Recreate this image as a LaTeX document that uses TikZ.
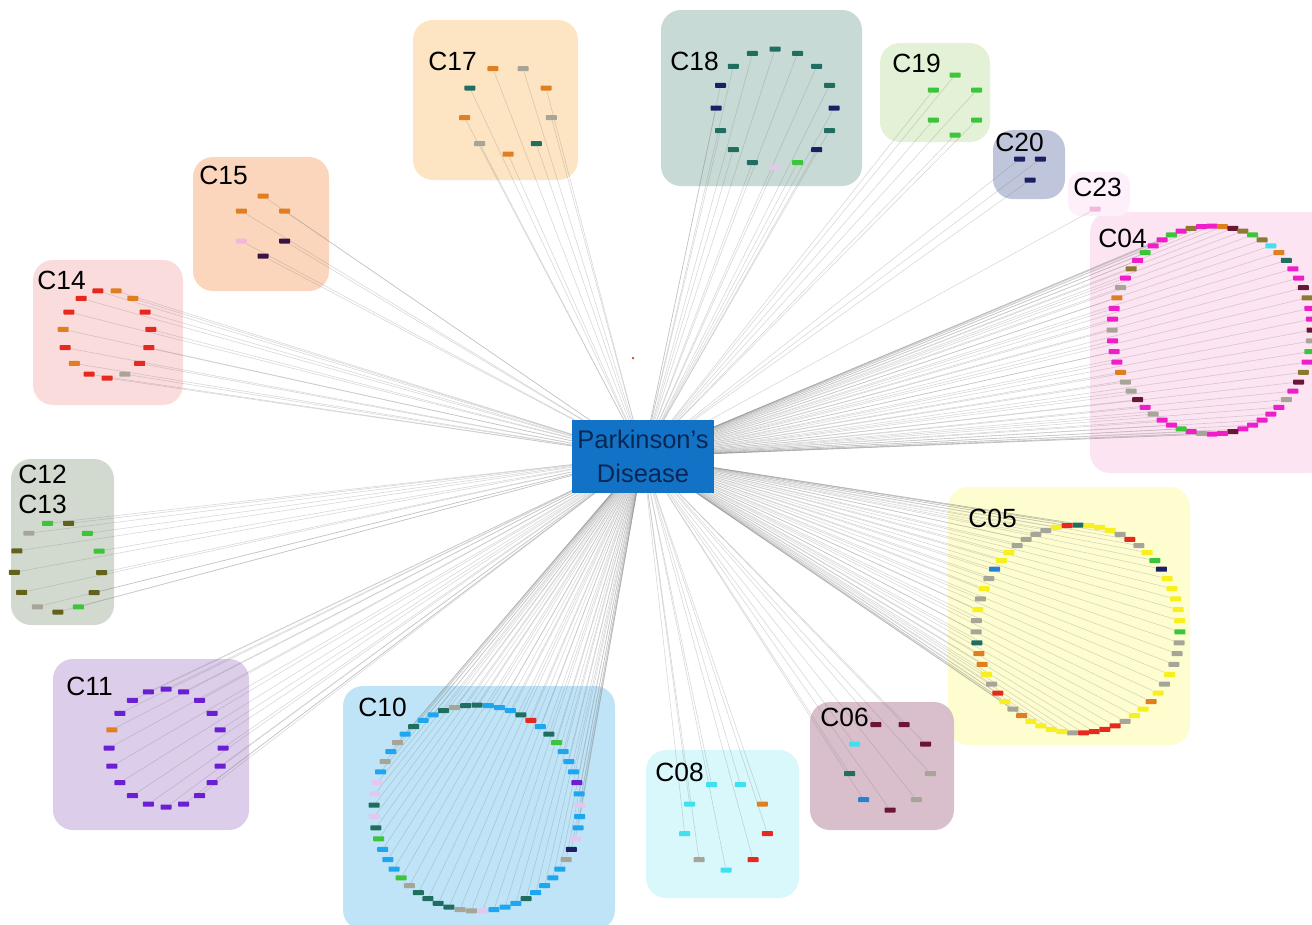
\documentclass[tikz,border=0pt]{standalone}
\usepackage{fontspec}
\setmainfont{Liberation Sans}

\pgfdeclarelayer{boxes}
\pgfdeclarelayer{links}
\pgfsetlayers{boxes,links,main}

% gene colours
\definecolor{mg}{HTML}{F01EC8}
\definecolor{gy}{HTML}{A6A598}
\definecolor{ol}{HTML}{8C7A32}
\definecolor{ow}{HTML}{62621A}
\definecolor{dr}{HTML}{6B1636}
\definecolor{gn}{HTML}{3CC43A}
\definecolor{cy}{HTML}{3FE0F0}
\definecolor{or}{HTML}{E07E22}
\definecolor{tl}{HTML}{1F6E60}
\definecolor{ye}{HTML}{F7F01E}
\definecolor{rd}{HTML}{E6281F}
\definecolor{nv}{HTML}{1C1F66}
\definecolor{bl}{HTML}{2A80D6}
\definecolor{sk}{HTML}{1EA6F0}
\definecolor{lv}{HTML}{E2C8EE}
\definecolor{pu}{HTML}{6A1FD3}
\definecolor{dp}{HTML}{3A1244}
\definecolor{pk}{HTML}{F2B8DC}
% box colours
\definecolor{b04}{HTML}{FCE4F2}
\definecolor{b05}{HTML}{FEFDD0}
\definecolor{b06}{HTML}{D9BFCB}
\definecolor{b08}{HTML}{D8F8FC}
\definecolor{b10}{HTML}{BFE4F8}
\definecolor{b11}{HTML}{DCCDEB}
\definecolor{b12}{HTML}{D2DACF}
\definecolor{b14}{HTML}{FBDCDD}
\definecolor{b15}{HTML}{FBD6BD}
\definecolor{b17}{HTML}{FDE4C2}
\definecolor{b18}{HTML}{C8DAD5}
\definecolor{b19}{HTML}{E3F2D6}
\definecolor{b20}{HTML}{BFC5DA}
\definecolor{b23}{HTML}{FDF0FA}
\definecolor{pdblue}{HTML}{1273C6}
\definecolor{pdtext}{HTML}{0B2654}

\tikzset{
  gene/.style={minimum width=0.22cm, minimum height=0.1cm, inner sep=0pt, rounded corners=0.4pt},
  link/.style={draw=black!50, line width=0.35pt, opacity=0.3},
  cbox/.style={rounded corners=0.4cm},
  clabel/.style={anchor=north west, inner sep=0pt, font=\fontsize{15}{17}\selectfont}
}

% #1 name, #2/#3 centre, #4/#5 radii, #6 first angle, #7 colours clockwise
\newcommand{\genering}[7]{%
  \foreach \col [count=\k] in {#7} {\xdef\ngenes{\k}}%
  \foreach \col [count=\i] in {#7} {
    \pgfmathsetmacro{\ang}{#6-(\i-1)*(360/\ngenes)}
    \node[gene, fill=\col] (#1-\i) at ({#2+#4*cos(\ang)},{#3-#5*sin(\ang)}) {};
  }%
  \begin{pgfonlayer}{links}
    \foreach \i in {1,...,\ngenes} \draw[link] (pd.center) -- (#1-\i);
  \end{pgfonlayer}%
}

\begin{document}
\begin{tikzpicture}[x=0.02cm, y=-0.02cm]
  \useasboundingbox (0,0) rectangle (1312,924);

  % cluster boxes
  \begin{pgfonlayer}{boxes}
    \foreach \xa/\ya/\xb/\yb/\col in {413/20/578/180/b17, 661/10/862/186/b18, 880/43/990/142/b19,
        993/130/1065/199/b20, 1090/212/1330/473/b04, 948/487/1190/745/b05, 810/702/954/830/b06,
        646/750/799/898/b08, 343/686/615/930/b10, 53/659/249/830/b11, 11/459/114/625/b12,
        33/260/183/405/b14, 193/157/329/291/b15}
      \fill[cbox, fill=\col] (\xa,\ya) rectangle (\xb,\yb);
    \fill[b23, rounded corners=0.25cm] (1068,172) rectangle (1130,216);
  \end{pgfonlayer}

  % centre
  \node[fill=pdblue, minimum width=2.84cm, minimum height=1.46cm, inner sep=0pt, align=center,
        text=pdtext, font=\fontsize{14.5}{19}\selectfont] (pd) at (643,456.5) {Parkinson's\\Disease};
  \fill[rd] (633,358) circle (0.025cm); % stray gene

  % gene rings
  \genering{c17}{508}{110}{44}{44}{70}{gy,or,gy,tl,or,gy,or,tl,or}
  \genering{c18}{775}{108}{59}{59}{90}{tl,tl,tl,tl,nv,tl,nv,gn,lv,tl,tl,tl,nv,nv,tl,tl}
  \genering{c19}{955}{105}{25}{30}{90}{gn,gn,gn,gn,gn,gn}
  \genering{c20}{1030}{166}{12}{14}{30}{nv,nv,nv}
  \genering{c23}{1095}{209}{0}{0}{90}{pk}
  \genering{c04}{1212}{330}{100}{104}{90}{mg,or,dr,ol,gn,ol,cy,or,tl,mg,mg,dr,ol,mg,mg,dr,gy,gn,mg,ol,dr,mg,gy,mg,mg,mg,mg,mg,dr,mg,mg,gy,mg,gn,mg,mg,gy,mg,dr,gy,gy,or,mg,mg,mg,gy,mg,mg,or,gy,mg,ol,mg,gn,mg,mg,gn,mg,ol,mg}
  \genering{c05}{1078}{629}{102}{104}{90}{tl,ye,ye,ye,gy,rd,gy,ye,gn,nv,ye,ye,ye,ye,ye,gn,gy,gy,gy,ye,gy,ye,or,ye,ye,gy,rd,rd,rd,rd,gy,ye,ye,ye,ye,or,gy,ye,rd,gy,ye,or,or,tl,gy,gy,ye,gy,ye,gy,bl,ye,ye,gy,gy,gy,gy,ye,rd}
  \genering{c06}{890}{766}{41}{44}{70}{dr,dr,gy,gy,dr,bl,tl,cy,dr}
  \genering{c08}{726}{826}{42}{44}{70}{cy,or,rd,rd,cy,gy,cy,cy,cy}
  \genering{c10}{477}{808}{103}{103}{90}{tl,sk,sk,sk,tl,rd,sk,tl,gn,sk,sk,sk,pu,sk,lv,sk,sk,lv,nv,gy,sk,sk,sk,sk,tl,sk,sk,sk,lv,gy,gy,tl,tl,tl,tl,gy,gn,sk,sk,sk,gn,tl,lv,tl,lv,lv,sk,gy,sk,gy,sk,tl,sk,sk,tl,gy,tl}
  \genering{c11}{166}{748}{57}{59}{90}{pu,pu,pu,pu,pu,pu,pu,pu,pu,pu,pu,pu,pu,pu,pu,pu,or,pu,pu,pu}
  \genering{c12}{58}{567}{44}{45}{76}{ow,gn,gn,ow,ow,gn,ow,gy,ow,ow,ow,gy,gn}
  \genering{c14}{107}{334}{44}{44}{78}{or,or,rd,rd,rd,rd,gy,rd,rd,or,rd,or,rd,rd,rd}
  \genering{c15}{263}{226}{25}{30}{90}{or,or,dp,dp,pk,or}

  % cluster labels
  \foreach \nm/\x/\y in {C17/428/52, C18/670/52, C19/892/54, C20/995/133, C23/1073/178, C04/1098/229,
      C05/968/509, C06/820/708, C08/655/763, C10/358/698, C11/66/677, C12/18/465, C13/18/495,
      C14/37/271, C15/199/166}
    \node[clabel] (lab\nm) at (\x,\y) {\nm};
\end{tikzpicture}
\end{document}
